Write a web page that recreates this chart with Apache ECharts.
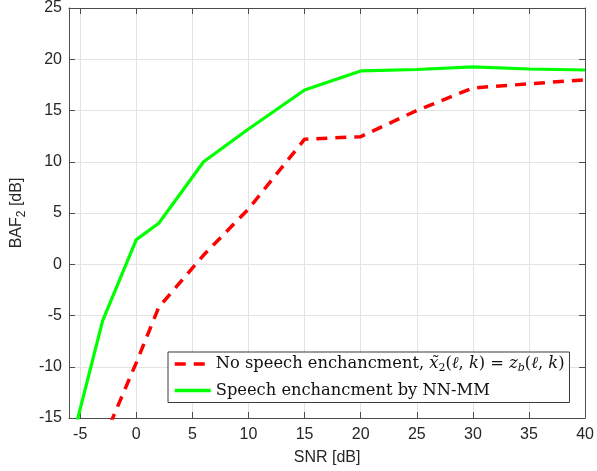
<!DOCTYPE html>
<html>
<head>
<meta charset="utf-8">
<script src="https://cdn.jsdelivr.net/npm/echarts@6/dist/echarts.min.js"></script>
<style>html,body{margin:0;padding:0;background:#fff;}#c{width:597px;height:471px;}</style>
</head>
<body>
<div id="c"></div>
<script>
var xTicks = [-5, 0, 5, 10, 15, 20, 25, 30, 35, 40];
var yTicks = [-15, -10, -5, 0, 5, 10, 15, 20, 25];
var redX = [-3, 0, 2, 6, 10, 15, 20, 25, 30, 35, 40];
var redY = [-17.3, -9.6, -4.2, 0.9, 5.4, 12.2, 12.45, 15.0, 17.2, 17.6, 18.0];
var greenX = [-6, -3, 0, 2, 6, 10, 15, 20, 25, 30, 35, 40];
var greenY = [-18.4, -5.5, 2.4, 4.0, 10.0, 13.2, 17.0, 18.86, 19.0, 19.25, 19.05, 18.95];
var seriesNames = ['No speech enchancment', 'Speech enchancment by NN-MM'];

function pairs(xs, ys) { return xs.map(function (x, i) { return [x, ys[i]]; }); }

var axisColor = '#4d4d4d';
var textColor = '#262626';
var gridColor = '#e3e3e3';
var sans = 'Liberation Sans';

function mkX(pos, show) {
  return {
    type: 'value', position: pos, min: -6, max: 40,
    axisLine: { show: true, onZero: false, lineStyle: { color: axisColor, width: 1 } },
    axisTick: { show: true, inside: true, length: 6, customValues: xTicks, lineStyle: { color: axisColor } },
    axisLabel: { show: show, customValues: xTicks, color: textColor, fontFamily: sans, fontSize: 16, margin: 9 },
    splitLine: { show: show, lineStyle: { color: gridColor, width: 1 } },
    name: show ? 'SNR [dB]' : '', nameLocation: 'middle', nameGap: 32,
    nameTextStyle: { color: textColor, fontFamily: sans, fontSize: 16 }
  };
}
function mkY(pos, show) {
  return {
    type: 'value', position: pos, min: -15, max: 25, interval: 5,
    axisLine: { show: true, onZero: false, lineStyle: { color: axisColor, width: 1 } },
    axisTick: { show: true, inside: true, length: 6, lineStyle: { color: axisColor } },
    axisLabel: { show: show, color: textColor, fontFamily: sans, fontSize: 16, margin: 7 },
    splitLine: { show: show, lineStyle: { color: gridColor, width: 1 } },
    name: show ? 'BAF{s|2} [dB]' : '', nameLocation: 'middle', nameGap: 37, nameRotate: 90,
    nameTextStyle: { color: textColor, fontFamily: sans, fontSize: 16,
      rich: { s: { fontFamily: sans, fontSize: 12, color: textColor, padding: [10, 0, 0, 0] } } }
  };
}

var chart = echarts.init(document.getElementById('c'), null, { renderer: 'canvas' });
var serif = 'DejaVu Serif';
chart.setOption({
  animation: false,
  backgroundColor: '#fff',
  grid: { left: 69, right: 9, top: 8, bottom: 52, containLabel: false },
  xAxis: [mkX('bottom', true), mkX('top', false)],
  yAxis: [mkY('left', true), mkY('right', false)],
  legend: {
    orient: 'vertical', left: 168, top: 352,
    backgroundColor: '#fff', borderColor: '#3a3a3a', borderWidth: 1,
    padding: [4, 5, 4, 5], itemGap: 9, itemWidth: 36, itemHeight: 16,
    itemStyle: { opacity: 0 },
    lineStyle: { width: 3.5 },
    data: seriesNames,
    formatter: function (name) {
      if (name === seriesNames[0]) {
        return '{n|No speech enchancment, }{i|x̃}{s|2}{n|(}{i|ℓ}{n|, }{i|k}{n|) = }{i|z}{si|b}{n|(}{i|ℓ}{n|, }{i|k}{n|)}';
      }
      return '{n|Speech enchancment by NN-MM}';
    },
    textStyle: {
      color: '#111', fontFamily: serif, fontSize: 16.3,
      rich: {
        n: { fontFamily: serif, fontSize: 16.3, color: '#111' },
        i: { fontFamily: serif, fontSize: 16.3, fontStyle: 'italic', color: '#111' },
        s: { fontFamily: serif, fontSize: 11, color: '#111', padding: [8, 0, 0, 0] },
        si: { fontFamily: serif, fontSize: 11, fontStyle: 'italic', color: '#111', padding: [8, 0, 0, 0] }
      }
    }
  },
  series: [
    {
      name: seriesNames[0], type: 'line', data: pairs(redX, redY),
      symbol: 'none', clip: true, z: 3,
      lineStyle: { color: '#ff0000', width: 3.5, type: [11, 8] },
      itemStyle: { color: '#ff0000' }
    },
    {
      name: seriesNames[1], type: 'line', data: pairs(greenX, greenY),
      symbol: 'none', clip: true, z: 3,
      lineStyle: { color: '#00ff00', width: 3.2 },
      itemStyle: { color: '#00ff00' }
    }
  ]
});
</script>
</body>
</html>
